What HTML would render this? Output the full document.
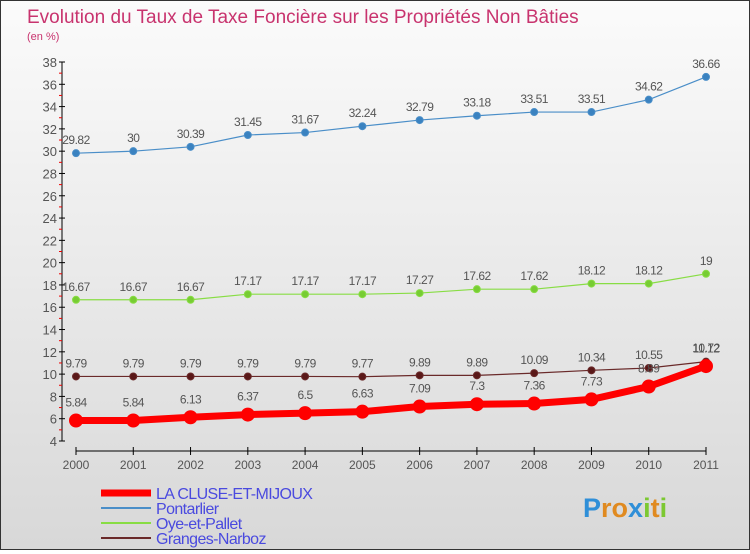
<!DOCTYPE html>
<html><head><meta charset="utf-8"><style>
body{margin:0;width:750px;height:550px;overflow:hidden;font-family:"Liberation Sans",sans-serif}
#c{position:absolute;left:0;top:0;width:748px;height:548px;border:1px solid #333;background:linear-gradient(#fbfbfb,#d8d8d8)}
</style></head><body>
<div id="c">
<svg id="s" width="748" height="548"></svg>
</div>
<script>
const years=["2000","2001","2002","2003","2004","2005","2006","2007","2008","2009","2010","2011"];
const cluse=[5.84,5.84,6.13,6.37,6.5,6.63,7.09,7.3,7.36,7.73,8.89,10.72];
const pontarlier=[29.82,30,30.39,31.45,31.67,32.24,32.79,33.18,33.51,33.51,34.62,36.66];
const oye=[16.67,16.67,16.67,17.17,17.17,17.17,17.27,17.62,17.62,18.12,18.12,19];
const granges=[9.79,9.79,9.79,9.79,9.79,9.77,9.89,9.89,10.09,10.34,10.55,11.12];
const yTicks=[4,6,8,10,12,14,16,18,20,22,24,26,28,30,32,34,36,38];
const NS="http://www.w3.org/2000/svg",s=document.getElementById('s');
function X(i){return 75+i*(630/11);}
function Y(v){return 440-(v-4)*(379/34);}
function el(t,a,txt){const e=document.createElementNS(NS,t);for(const k in a)e.setAttribute(k,a[k]);if(txt!==undefined)e.textContent=txt;s.appendChild(e);return e;}
let t=el('text',{x:26,y:22,'font-size':19,fill:'#c8336e'},'Evolution du Taux de Taxe Foncière sur les Propriétés Non Bâties');

t=el('text',{x:26,y:39,'font-size':11,fill:'#c8336e'},'(en %)');

let a=el('line',{x1:61,y1:Y(38),x2:61,y2:Y(4),stroke:'#000'});

yTicks.forEach(v=>{el('line',{x1:58,x2:64,y1:Y(v),y2:Y(v),stroke:'#000'});
 if(v<38)el('line',{x1:58,x2:61,y1:Y(v+1),y2:Y(v+1),stroke:'#e00'});
 const l=el('text',{x:56,y:Y(v)+5,'font-size':13,fill:'#555','text-anchor':'end'},v);
 });
a=el('line',{x1:X(0),y1:450,x2:X(11),y2:450,stroke:'#000'});

years.forEach((y,i)=>{el('line',{x1:X(i),x2:X(i),y1:446,y2:454,stroke:'#000'});
 const l=el('text',{x:X(i),y:468,'font-size':12,fill:'#555','text-anchor':'middle'},y);
 });
function series(d,col,w,r,name,dot,lblOff){
 const p=el('polyline',{points:d.map((v,i)=>X(i)+','+Y(v)).join(' '),fill:'none',stroke:col,'stroke-width':w});
 
 d.forEach((v,i)=>{const c=el('circle',{cx:X(i),cy:Y(v),r:r,fill:dot,stroke:col,'stroke-width':1});
  
  const l=el('text',{x:X(i),y:Y(v)-lblOff,'font-size':12,fill:'#555','text-anchor':'middle','letter-spacing':'-0.5'},v);
  });
}
series(pontarlier,'#4a8ec8',1.2,3.5,'pontarlier','#3a82c0',9);
series(oye,'#88dd44',1.2,3.5,'oye-et-pallet','#77cc33',9);
series(granges,'#6a2a2a',1.2,3.5,'granges-narboz','#5a1818',9);
series(cluse,'#ff0000',7,6.5,'la-cluse-et-mijoux','#ff0000',14);
const leg=[['LA CLUSE-ET-MIJOUX','#ff0000',7],['Pontarlier','#4a8ec8',2],['Oye-et-Pallet','#88dd44',2],['Granges-Narboz','#6a2a2a',2]];
leg.forEach((g,i)=>{const y=492+i*15;
 const l=el('line',{x1:100,x2:150,y1:y,y2:y,stroke:g[1],'stroke-width':g[2]});
 
 const tx=el('text',{x:155,y:y+6,'font-size':16,fill:'#4a4adf','letter-spacing':'-0.6'},g[0]);
 });
const lg=el('text',{x:582,y:516,'font-size':27,'font-weight':'bold',fill:'#e08a20'});

[['P','#2f8fd8'],['r','#e08a20'],['o','#e08a20'],['x','#2f8fd8'],['i','#7cc832'],['t','#e08a20'],['i','#7cc832']].forEach(c=>{const sp=document.createElementNS(NS,'tspan');sp.setAttribute('fill',c[1]);sp.textContent=c[0];lg.appendChild(sp);});
</script>
</body></html>
